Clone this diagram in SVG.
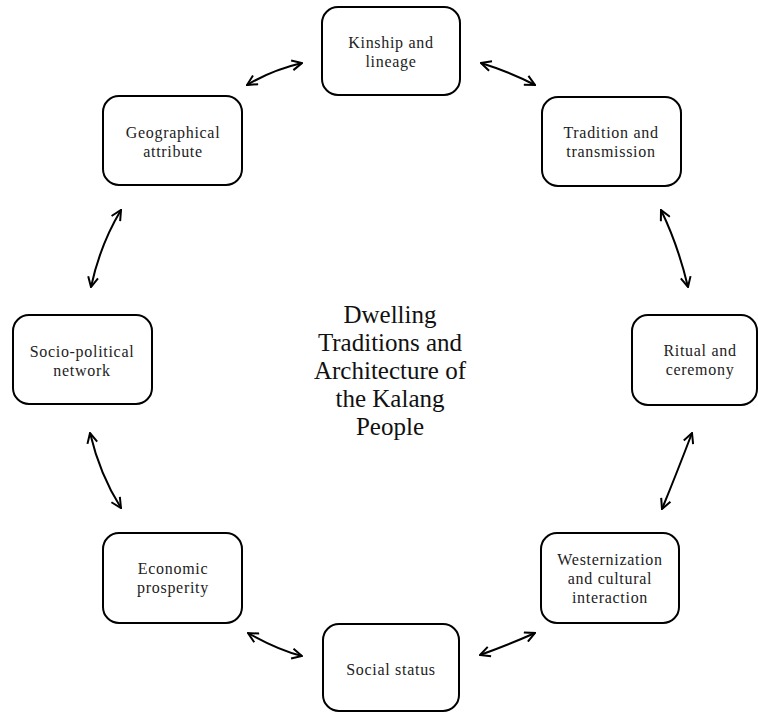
<svg xmlns="http://www.w3.org/2000/svg" width="758" height="712" viewBox="0 0 758 712">
<defs>
<style>
.box{fill:#fff;stroke:#000;stroke-width:2}
.t{font-family:"Liberation Serif","Times New Roman",serif;font-size:16px;letter-spacing:0.7px;text-anchor:middle;fill:#222}
.title{font-family:"Liberation Serif","Times New Roman",serif;font-size:25px;text-anchor:middle;fill:#111}
.c{fill:none;stroke:#000;stroke-width:2}
</style>
<marker id="ah" viewBox="0 0 12 12" refX="11" refY="6" markerWidth="12" markerHeight="12" markerUnits="userSpaceOnUse" orient="auto-start-reverse">
<path d="M1,1 L11,6 L1,11" fill="none" stroke="#000" stroke-width="2"/>
</marker>
</defs>
<rect width="758" height="712" fill="#fff"/>
<g id="connectors">
<path class="c" d="M247,85 Q272,70 302,63" marker-start="url(#ah)" marker-end="url(#ah)"/>
<path class="c" d="M481,63 Q510,72 535,85" marker-start="url(#ah)" marker-end="url(#ah)"/>
<path class="c" d="M121,210 Q100,245 91,287" marker-start="url(#ah)" marker-end="url(#ah)"/>
<path class="c" d="M90,433 Q100,475 121,508" marker-start="url(#ah)" marker-end="url(#ah)"/>
<path class="c" d="M661,210 Q678,245 688,287" marker-start="url(#ah)" marker-end="url(#ah)"/>
<path class="c" d="M692,433 Q676,475 662,509" marker-start="url(#ah)" marker-end="url(#ah)"/>
<path class="c" d="M248,633 Q278,650 302,656" marker-start="url(#ah)" marker-end="url(#ah)"/>
<path class="c" d="M480,655 Q508,645 535,633" marker-start="url(#ah)" marker-end="url(#ah)"/>
</g>
<g id="kinship">
<rect class="box" x="322" y="7" width="138" height="88" rx="16"/>
<text class="t" x="391" y="48">Kinship and</text>
<text class="t" x="391" y="67">lineage</text>
</g>
<g id="geographical">
<rect class="box" x="103" y="96" width="139" height="89" rx="16"/>
<text class="t" x="173" y="138">Geographical</text>
<text class="t" x="173" y="157">attribute</text>
</g>
<g id="tradition">
<rect class="box" x="542" y="97" width="139" height="89" rx="16"/>
<text class="t" x="611" y="138">Tradition and</text>
<text class="t" x="611" y="157">transmission</text>
</g>
<g id="sociopolitical">
<rect class="box" x="13" y="315" width="139" height="89" rx="16"/>
<text class="t" x="82" y="357">Socio-political</text>
<text class="t" x="82" y="376">network</text>
</g>
<g id="ritual">
<rect class="box" x="632" y="315" width="125" height="90" rx="16"/>
<text class="t" x="700" y="356">Ritual and</text>
<text class="t" x="700" y="375">ceremony</text>
</g>
<g id="economic">
<rect class="box" x="103" y="533" width="139" height="90" rx="16"/>
<text class="t" x="173" y="574">Economic</text>
<text class="t" x="173" y="593">prosperity</text>
</g>
<g id="social">
<rect class="box" x="323" y="624" width="136" height="87" rx="16"/>
<text class="t" x="391" y="675">Social status</text>
</g>
<g id="westernization">
<rect class="box" x="541" y="533" width="138" height="90" rx="16"/>
<text class="t" x="610" y="565">Westernization</text>
<text class="t" x="610" y="584">and cultural</text>
<text class="t" x="610" y="603">interaction</text>
</g>
<g id="title">
<text class="title" x="390" y="323">Dwelling</text>
<text class="title" x="390" y="351">Traditions and</text>
<text class="title" x="390" y="379">Architecture of</text>
<text class="title" x="390" y="407">the Kalang</text>
<text class="title" x="390" y="435">People</text>
</g>
</svg>
